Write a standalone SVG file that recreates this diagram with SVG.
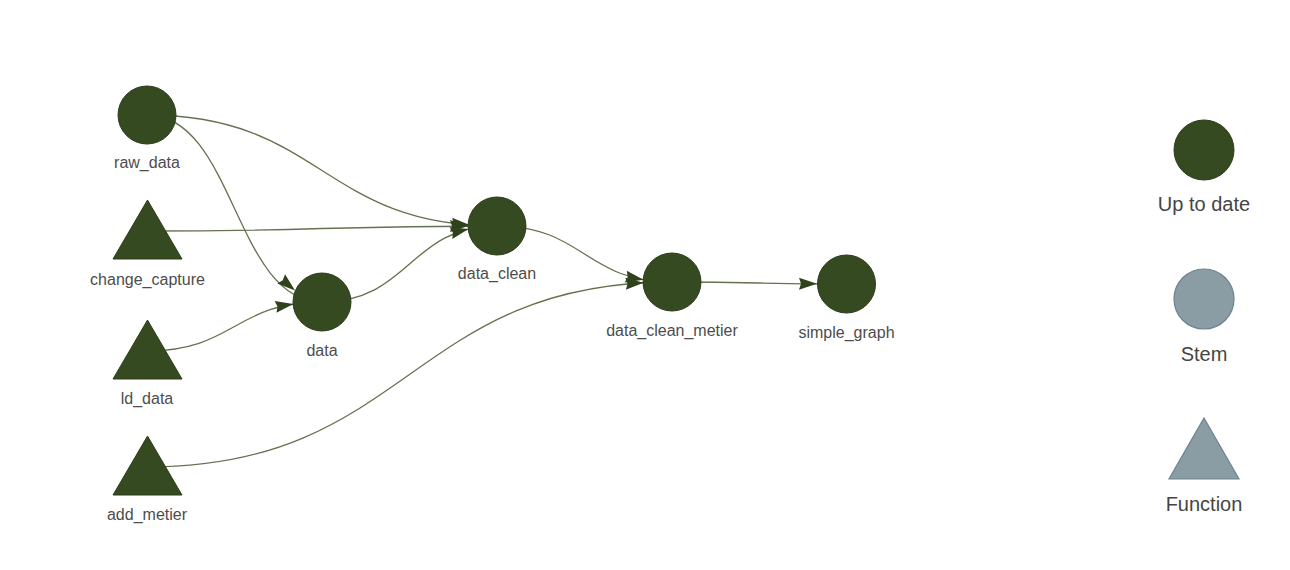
<svg xmlns="http://www.w3.org/2000/svg" width="1290" height="570" viewBox="0 0 1290 570">
<style>
.edge{fill:none;stroke:#64724f;stroke-width:1.3}
.arr{fill:#2f421b}
.node{fill:#354a21;stroke:#2c3d1b;stroke-width:1}
.stem{fill:#8a9ca4;stroke:#6e8390;stroke-width:1.2}
.lbl{font-family:"Liberation Sans",Arial,sans-serif;font-size:16px;fill:#4d4d4d;text-anchor:middle}
.leg{font-family:"Liberation Sans",Arial,sans-serif;font-size:20px;fill:#454545;text-anchor:middle}
</style>
<defs>
<polygon id="ah" points="0,0 -18,-6 -16,0 -18,6"/>
</defs>
<rect width="1290" height="570" fill="#ffffff"/>
<g id="connectors">
<path class="edge" d="M147,115 C322,115 322,226 497,226"/>
<path class="edge" d="M147,115 C234.5,115 234.5,302 322,302"/>
<path class="edge" d="M147,231 C322,231 322,226 497,226"/>
<path class="edge" d="M322,302 C409.5,302 409.5,226 497,226"/>
<path class="edge" d="M147,351 C234.5,351 234.5,302 322,302"/>
<path class="edge" d="M147,467 C409.5,467 409.5,282 672,282"/>
<path class="edge" d="M497,226 C584.5,226 584.5,282 672,282"/>
<path class="edge" d="M672,282 C759,282 759,284 846,284"/>
<use href="#ah" class="arr" transform="translate(469.7,225) rotate(4.2)"/>
<use href="#ah" class="arr" transform="translate(295,290.5) rotate(40)"/>
<use href="#ah" class="arr" transform="translate(468,226) rotate(0.3)"/>
<use href="#ah" class="arr" transform="translate(468.5,229.1) rotate(-13)"/>
<use href="#ah" class="arr" transform="translate(293.3,304.1) rotate(-9)"/>
<use href="#ah" class="arr" transform="translate(643.5,282.8) rotate(-3)"/>
<use href="#ah" class="arr" transform="translate(643.5,279.7) rotate(9.7)"/>
<use href="#ah" class="arr" transform="translate(817,283.8) rotate(0.5)"/>
</g>
<g id="raw_data"><circle class="node" cx="147" cy="115" r="29"/><text class="lbl" x="147" y="168">raw_data</text></g>
<g id="change_capture"><polygon class="node" points="147.5,200 182,259 113,259"/><text class="lbl" x="147.5" y="285">change_capture</text></g>
<g id="ld_data"><polygon class="node" points="147.5,320 182,379 113,379"/><text class="lbl" x="147" y="404">ld_data</text></g>
<g id="add_metier"><polygon class="node" points="147.5,436 182,495 113,495"/><text class="lbl" x="147" y="520">add_metier</text></g>
<g id="data"><circle class="node" cx="322" cy="302" r="29"/><text class="lbl" x="322" y="356">data</text></g>
<g id="data_clean"><circle class="node" cx="497" cy="226" r="29"/><text class="lbl" x="497" y="279">data_clean</text></g>
<g id="data_clean_metier"><circle class="node" cx="672" cy="282" r="29"/><text class="lbl" x="672" y="336">data_clean_metier</text></g>
<g id="simple_graph"><circle class="node" cx="846.5" cy="284" r="29"/><text class="lbl" x="846.5" y="338">simple_graph</text></g>
<g id="legend_up_to_date"><circle class="node" cx="1204" cy="150" r="30"/><text class="leg" x="1204" y="211">Up to date</text></g>
<g id="legend_stem"><circle class="stem" cx="1204" cy="299" r="30"/><text class="leg" x="1204" y="361">Stem</text></g>
<g id="legend_function"><polygon class="stem" points="1204,418 1239,479 1169,479"/><text class="leg" x="1204" y="511">Function</text></g>
</svg>
